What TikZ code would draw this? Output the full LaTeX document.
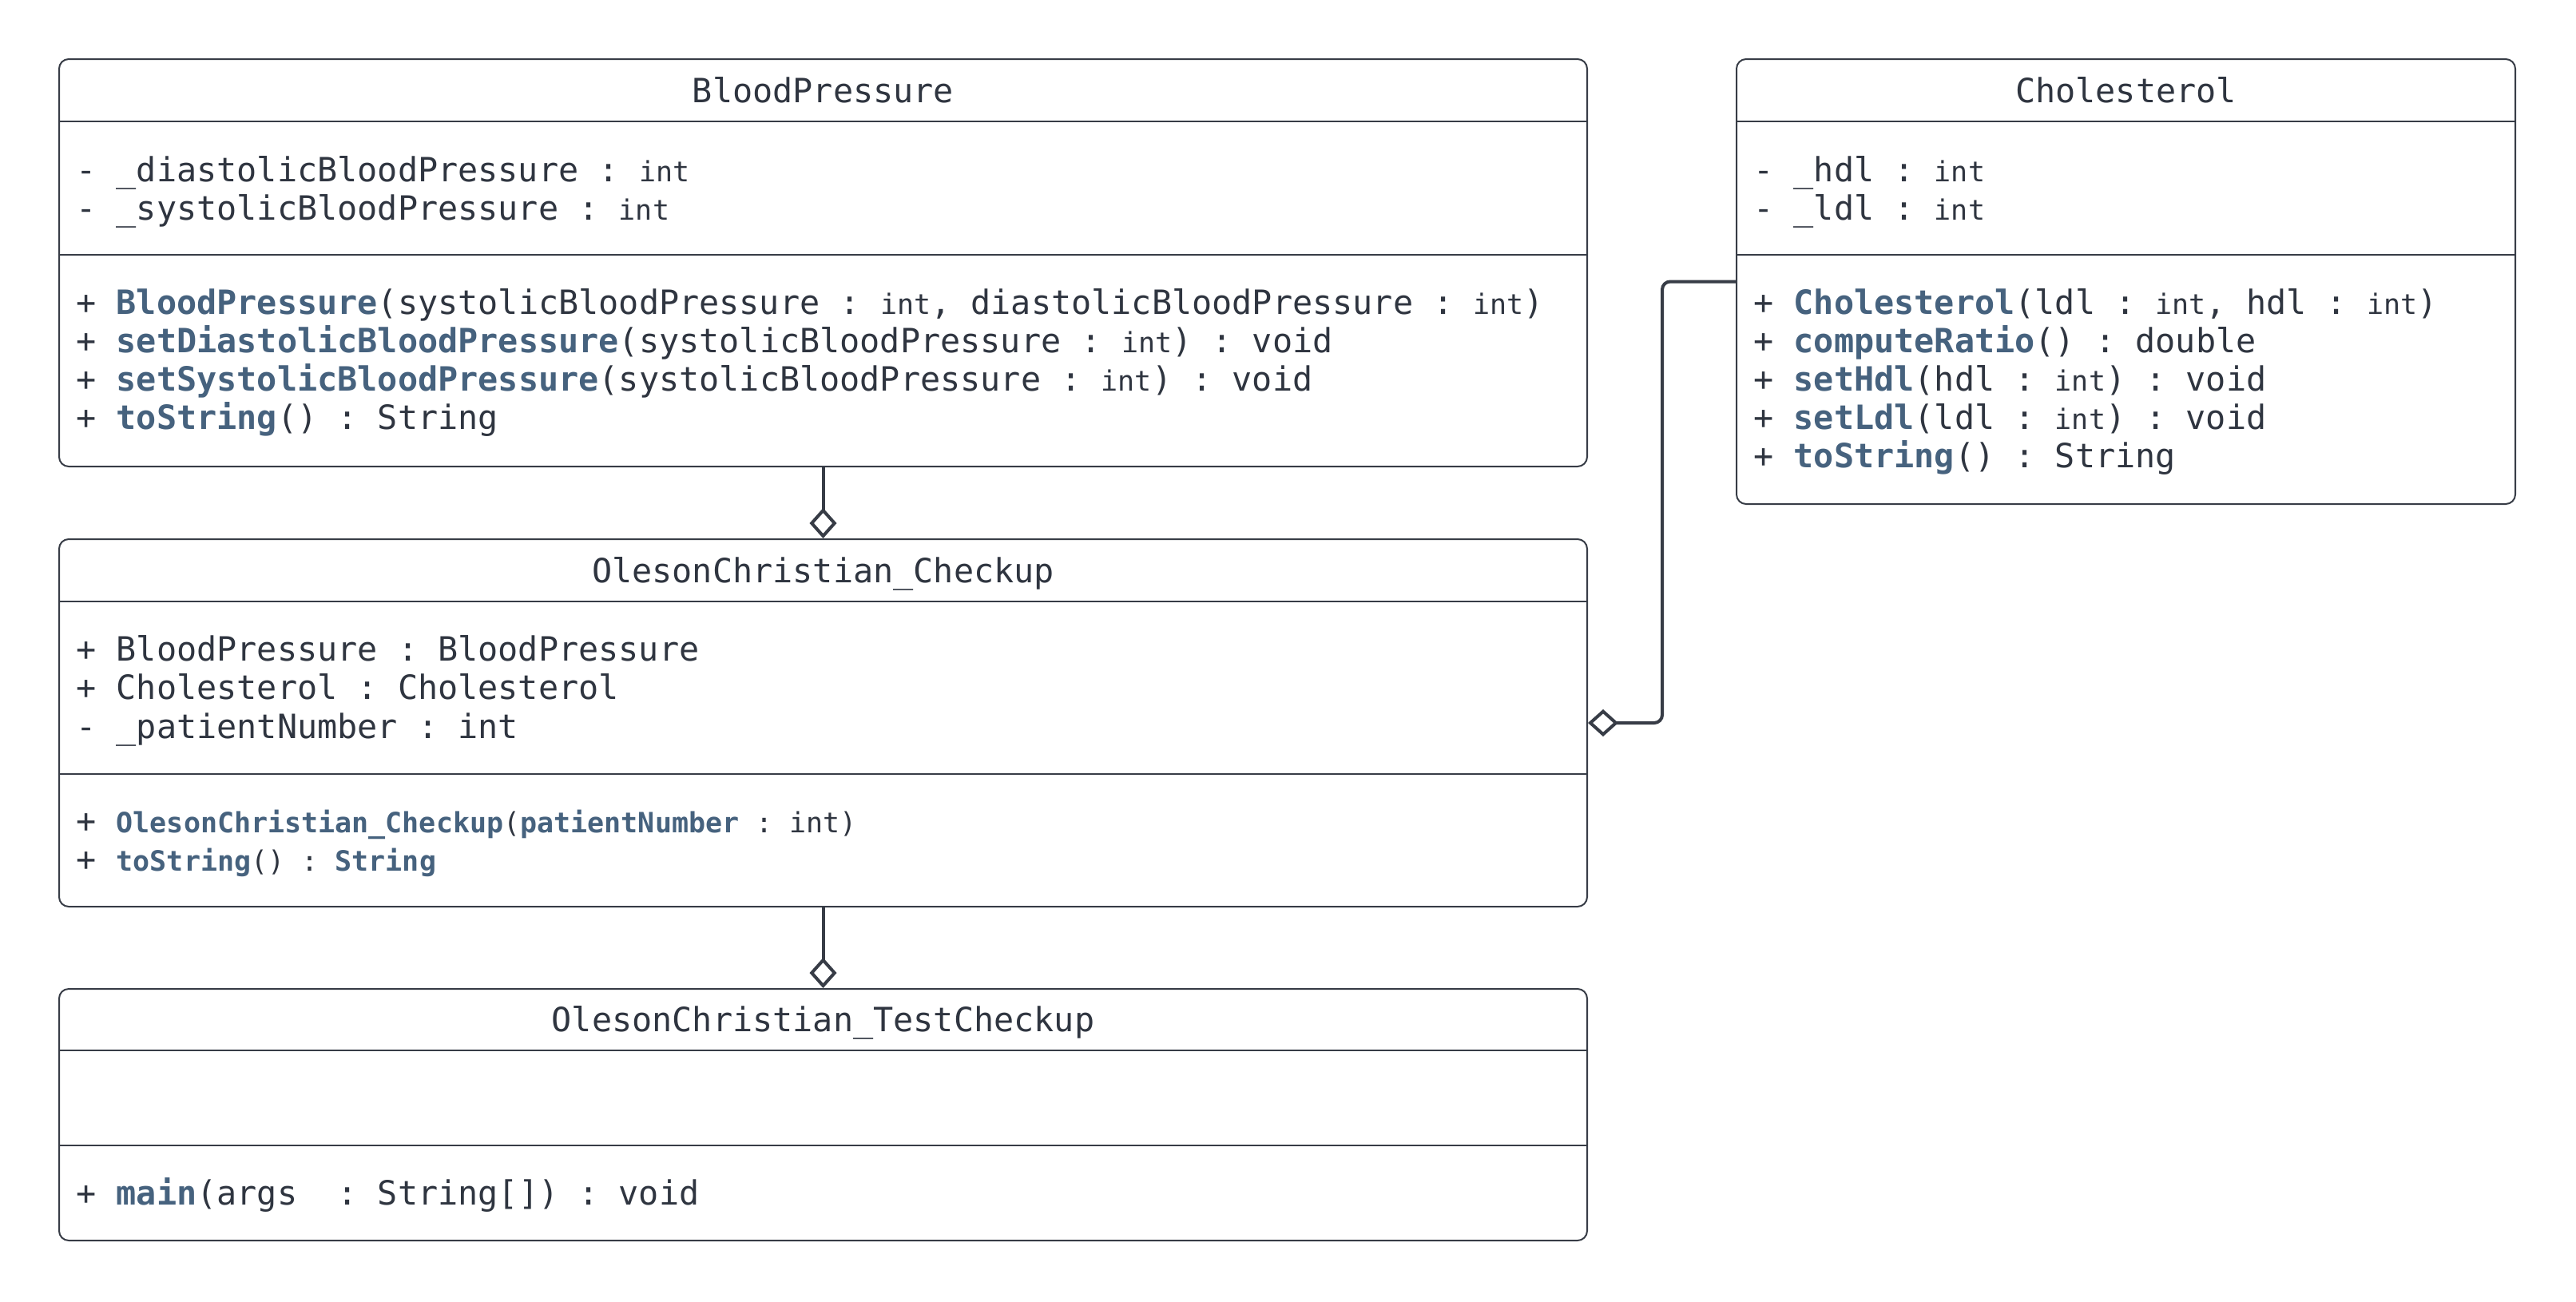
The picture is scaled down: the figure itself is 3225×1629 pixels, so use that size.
\documentclass[tikz,border=0pt]{standalone}
\usepackage{fontspec}
\setmonofont{DejaVu Sans Mono}
\usetikzlibrary{arrows.meta}

\definecolor{umltext}{RGB}{47,53,64}
\definecolor{umlblue}{RGB}{70,98,126}
\definecolor{umlline}{RGB}{55,60,70}

\newcommand{\op}[1]{\textbf{\textcolor{umlblue}{#1}}}
\newcommand{\ty}[1]{{\fontsize{17.5}{20}\selectfont #1}}

\tikzset{%
  classbox/.style={draw=umlline, line width=1pt, rounded corners=6pt, inner sep=0pt},%
  compline/.style={draw=umlline, line width=1pt},%
  member/.style={anchor=base west, inner sep=0pt, text=umltext},%
  classname/.style={anchor=base, inner sep=0pt, text=umltext},%
  aggr/.style={draw=umlline, line width=2pt, rounded corners=5pt,%
    -{Diamond[fill=white, length=19pt, width=17pt]}},%
}

\begin{document}
\begin{tikzpicture}[x=0.5pt, y=-0.5pt,%
                    font=\ttfamily\fontsize{20.9}{24}\selectfont]%
\useasboundingbox[fill=white] (0,0) rectangle (3225,1629);

% class boxes
\node[classbox, minimum width=956.5pt, minimum height=255pt] (bp) at (1030.5,329) {};
\node[classbox, minimum width=487.5pt, minimum height=278.5pt] (chol) at (2661.5,352.5) {};
\node[classbox, minimum width=956.5pt, minimum height=230pt] (chk) at (1030.5,905) {};
\node[classbox, minimum width=956.5pt, minimum height=157.5pt] (tst) at (1030.5,1395.5) {};

% compartments
\draw[compline] (bp.west |- 0,152) -- (bp.east |- 0,152);
\draw[compline] (bp.west |- 0,319) -- (bp.east |- 0,319);
\draw[compline] (chol.west |- 0,152) -- (chol.east |- 0,152);
\draw[compline] (chol.west |- 0,319) -- (chol.east |- 0,319);
\draw[compline] (chk.west |- 0,753) -- (chk.east |- 0,753);
\draw[compline] (chk.west |- 0,969) -- (chk.east |- 0,969);
\draw[compline] (tst.west |- 0,1315) -- (tst.east |- 0,1315);
\draw[compline] (tst.west |- 0,1434) -- (tst.east |- 0,1434);

% BloodPressure
\node[classname] (bp-name) at (1030.5,128) {BloodPressure};
\node[member] (bp-a1) at (95,227) {- \_diastolicBloodPressure : \ty{int}};
\node[member] (bp-a2) at (95,275) {- \_systolicBloodPressure : \ty{int}};
\node[member] (bp-m1) at (95,393) {+ \op{BloodPressure}(systolicBloodPressure : \ty{int}, diastolicBloodPressure : \ty{int})};
\node[member] (bp-m2) at (95,441) {+ \op{setDiastolicBloodPressure}(systolicBloodPressure : \ty{int}) : void};
\node[member] (bp-m3) at (95,489) {+ \op{setSystolicBloodPressure}(systolicBloodPressure : \ty{int}) : void};
\node[member] (bp-m4) at (95,537) {+ \op{toString}() : String};

% Cholesterol
\node[classname] (chol-name) at (2661.5,128) {Cholesterol};
\node[member] (chol-a1) at (2195,227) {- \_hdl : \ty{int}};
\node[member] (chol-a2) at (2195,275) {- \_ldl : \ty{int}};
\node[member] (chol-m1) at (2195,393) {+ \op{Cholesterol}(ldl : \ty{int}, hdl : \ty{int})};
\node[member] (chol-m2) at (2195,441) {+ \op{computeRatio}() : double};
\node[member] (chol-m3) at (2195,489) {+ \op{setHdl}(hdl : \ty{int}) : void};
\node[member] (chol-m4) at (2195,537) {+ \op{setLdl}(ldl : \ty{int}) : void};
\node[member] (chol-m5) at (2195,585) {+ \op{toString}() : String};

% OlesonChristian_Checkup
\node[classname] (chk-name) at (1030.5,729) {OlesonChristian\_Checkup};
\node[member] (chk-a1) at (95,827) {+ BloodPressure : BloodPressure};
\node[member] (chk-a2) at (95,875) {+ Cholesterol : Cholesterol};
\node[member] (chk-a3) at (95,924) {- \_patientNumber : int};
\node[member] (chk-m1) at (95,1042) {+ \ty{\op{OlesonChristian\_Checkup}(\op{patientNumber} : int)}};
\node[member] (chk-m2) at (95,1090) {+ \ty{\op{toString}() : \op{String}}};

% OlesonChristian_TestCheckup
\node[classname] (tst-name) at (1030.5,1291) {OlesonChristian\_TestCheckup};
\node[member] (tst-m1) at (95,1508) {+ \op{main}(args\ \ : String[]) : void};

% aggregations
\draw[aggr] (bp.south) -- (chk.north);
\draw[aggr] (chk.south) -- (tst.north);
\draw[aggr] (chol.west) -- ++(-92,0) |- (chk.east);
\end{tikzpicture}
\end{document}
